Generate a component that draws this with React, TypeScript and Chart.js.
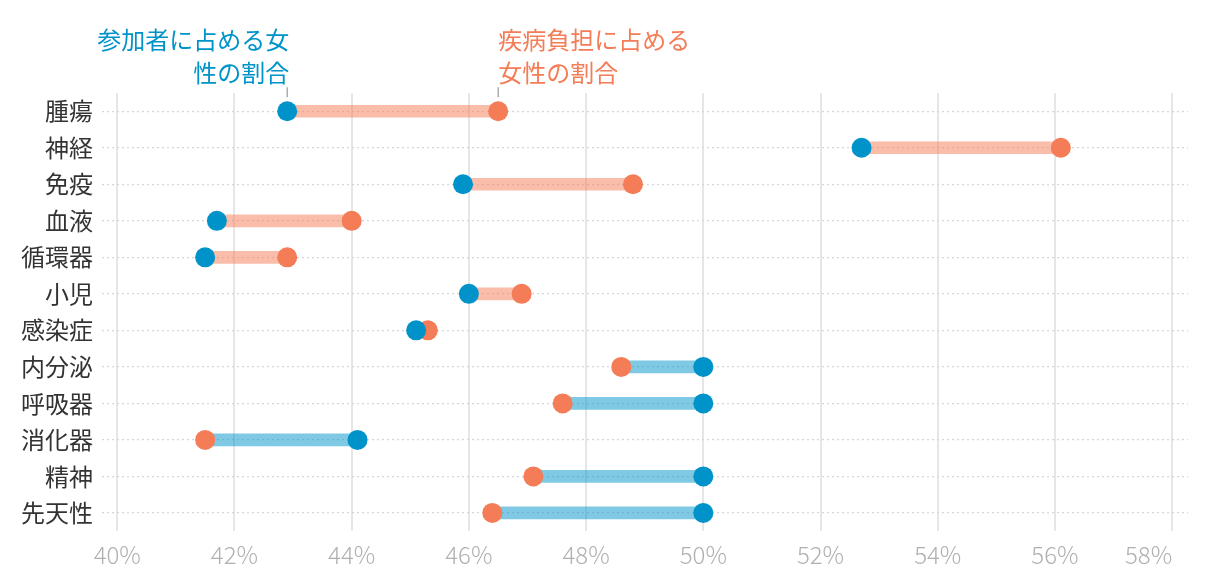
import React, { useEffect, useRef } from "react";
import { Chart, registerables } from "chart.js";

Chart.register(...registerables);

const categories = ["腫瘍", "神経", "免疫", "血液", "循環器", "小児", "感染症", "内分泌", "呼吸器", "消化器", "精神", "先天性"];
const participantShare = [42.9, 52.7, 45.9, 41.7, 41.5, 46.0, 45.1, 50.0, 50.0, 44.1, 50.0, 50.0];
const burdenShare = [46.5, 56.1, 48.8, 44.0, 42.9, 46.9, 45.3, 48.6, 47.6, 41.5, 47.1, 46.4];
const xTickValues = [40, 42, 44, 46, 48, 50, 52, 54, 56, 58];
const participantLabel = ["参加者に占める女", "性の割合"];
const burdenLabel = ["疾病負担に占める", "女性の割合"];

const BLUE = "#0093c9";
const ORANGE = "#f47c56";
const BLUE_LIGHT = "rgba(0,147,201,0.5)";
const ORANGE_LIGHT = "rgba(244,124,86,0.5)";
const TICK_COLOR = "#b0b0b0";
const FONT = "'Noto Sans CJK JP', 'Noto Sans', sans-serif";
const LAST_TICK = xTickValues[xTickValues.length - 1];

const annotationPlugin = {
  id: "annot",
  afterDraw(chart: any) {
    const ctx = chart.ctx;
    const xs = chart.scales.x;
    const ys = chart.scales.y;
    const bx = xs.getPixelForValue(participantShare[0]);
    const ox = xs.getPixelForValue(burdenShare[0]);
    const rowY = ys.getPixelForValue(0);
    ctx.save();
    ctx.font = `24px ${FONT}`;
    ctx.textBaseline = "middle";
    ctx.fillStyle = BLUE;
    ctx.textAlign = "right";
    ctx.fillText(participantLabel[0], bx + 2, 32);
    ctx.fillText(participantLabel[1], bx + 2, 65);
    ctx.fillStyle = ORANGE;
    ctx.textAlign = "left";
    ctx.fillText(burdenLabel[0], ox, 32);
    ctx.fillText(burdenLabel[1], ox, 65);
    ctx.strokeStyle = "#999";
    ctx.lineWidth = 1.2;
    ctx.beginPath();
    ctx.moveTo(bx, rowY - 24);
    ctx.lineTo(bx, rowY - 14);
    ctx.moveTo(ox, rowY - 24);
    ctx.lineTo(ox, rowY - 14);
    ctx.stroke();

    // last x tick label, right-aligned to its gridline
    const items = xs.getLabelItems ? xs.getLabelItems() : [];
    const last = items[items.length - 1];
    if (last) {
      const o = last.options;
      ctx.font = `300 24px ${FONT}`;
      ctx.fillStyle = TICK_COLOR;
      ctx.textAlign = "right";
      ctx.textBaseline = o.textBaseline || "middle";
      ctx.fillText(LAST_TICK + "%", xs.getPixelForValue(LAST_TICK), o.translation[1] + (last.textOffset || 0));
    }
    ctx.restore();
  },
};

export default function App() {
  const ref = useRef<HTMLCanvasElement | null>(null);
  useEffect(() => {
    if (!ref.current) return;
    const ranges = categories.map((_, i) => [
      Math.min(participantShare[i], burdenShare[i]),
      Math.max(participantShare[i], burdenShare[i]),
    ]);
    const barColors = categories.map((_, i) =>
      burdenShare[i] >= participantShare[i] ? ORANGE_LIGHT : BLUE_LIGHT
    );
    const chart = new Chart(ref.current, {
      type: "bar",
      data: {
        labels: categories,
        datasets: [
          {
            type: "bar",
            data: ranges as any,
            backgroundColor: barColors,
            borderWidth: 0,
            borderSkipped: false,
            barThickness: 12,
            order: 3,
          } as any,
          {
            type: "scatter",
            data: burdenShare.map((v, i) => ({ x: v, y: categories[i] })),
            backgroundColor: ORANGE,
            pointBackgroundColor: ORANGE,
            pointBorderWidth: 0,
            pointRadius: 10,
            pointHoverRadius: 10,
            order: 2,
          } as any,
          {
            type: "scatter",
            data: participantShare.map((v, i) => ({ x: v, y: categories[i] })),
            backgroundColor: BLUE,
            pointBackgroundColor: BLUE,
            pointBorderWidth: 0,
            pointRadius: 10,
            pointHoverRadius: 10,
            order: 1,
          } as any,
        ],
      },
      options: {
        indexAxis: "y",
        responsive: false,
        animation: false,
        layout: { padding: { top: 85, right: 24, bottom: 0, left: 4 } },
        plugins: { legend: { display: false }, tooltip: { enabled: false } },
        scales: {
          x: {
            type: "linear",
            min: 39.74,
            max: 58.27,
            afterBuildTicks: (scale: any) => {
              scale.ticks = xTickValues.map((v) => ({ value: v }));
            },
            grid: { color: "#e6e6e6", lineWidth: 2, drawTicks: false },
            border: { display: false },
            ticks: {
              color: (c: any) => (c.tick && c.tick.value === LAST_TICK ? "rgba(0,0,0,0)" : TICK_COLOR),
              font: { family: FONT, size: 24, weight: "300" },
              padding: 9,
              callback: (v: any) => v + "%",
            },
          },
          y: {
            type: "category",
            labels: categories,
            offset: true,
            grid: { color: "#d6d6d6", lineWidth: 1.2, drawTicks: false, offset: false },
            border: { display: false, dash: [2, 3] },
            ticks: {
              color: "#333",
              font: { family: FONT, size: 24 },
              padding: 9,
            },
          },
        },
      } as any,
      plugins: [annotationPlugin],
    });
    return () => chart.destroy();
  }, []);
  return (
    <div style={{ width: 1204, height: 570 }}>
      <canvas ref={ref} width={1204} height={570} style={{ display: "block" }} />
    </div>
  );
}
